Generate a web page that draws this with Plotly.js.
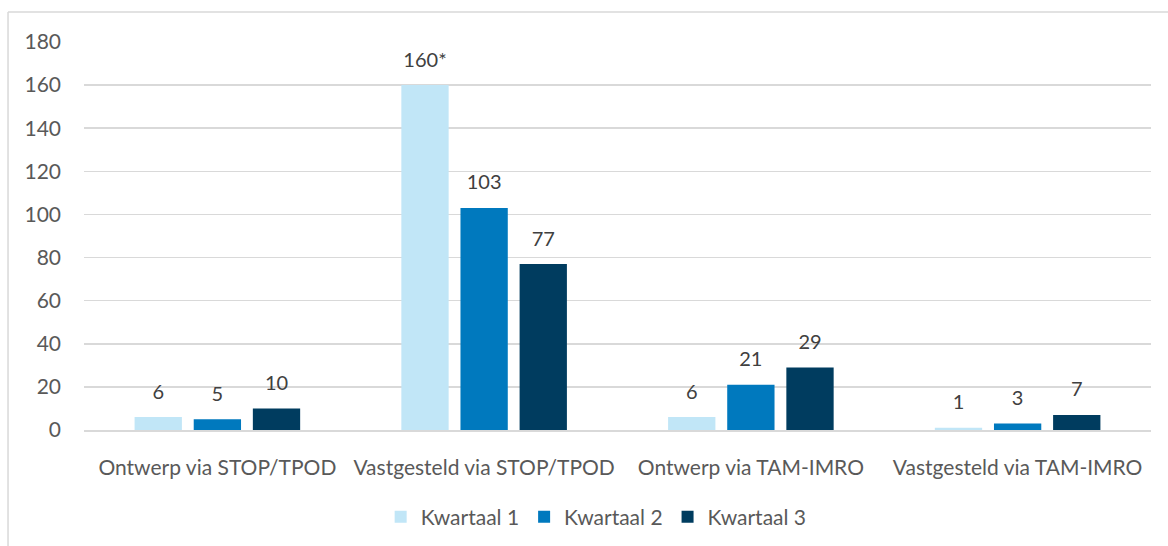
<!DOCTYPE html>
<html>
<head>
<meta charset="utf-8">
<script src="https://cdn.plot.ly/plotly-3.0.1.min.js"></script>
<style>html,body{margin:0;padding:0;background:#fff}#chart{width:1168px;height:546px}</style>
</head>
<body>
<div id="chart"></div>
<script>
var categories = ["Ontwerp via STOP/TPOD", "Vastgesteld via STOP/TPOD", "Ontwerp via TAM-IMRO", "Vastgesteld via TAM-IMRO"];
var seriesNames = ["Kwartaal 1", "Kwartaal 2", "Kwartaal 3"];
var kwartaal1 = [6, 160, 6, 1];
var kwartaal2 = [5, 103, 21, 3];
var kwartaal3 = [10, 77, 29, 7];
var labels1 = ["6", "160*", "6", "1"];
var labels2 = ["5", "103", "21", "3"];
var labels3 = ["10", "77", "29", "7"];
var yTicks = [0, 20, 40, 60, 80, 100, 120, 140, 160, 180];

var colors = ["#c1e6f7", "#0079be", "#003c5f"];
var font = "Lato, 'Open Sans', sans-serif";

function bar(name, y, c, g) {
  return {
    type: "bar", name: name, x: categories, y: y, offsetgroup: g,
    marker: {color: c}, hoverinfo: "skip"
  };
}
function lab(name, y, txt, g) {
  return {
    type: "scatter", mode: "markers+text", name: name, x: categories, y: y, text: txt,
    offsetgroup: g, textposition: "top center", showlegend: false, cliponaxis: false,
    marker: {size: 20, opacity: 0, color: "#fff"},
    textfont: {family: font, size: 20, color: "#404040"}, hoverinfo: "skip"
  };
}
var data = [
  bar(seriesNames[0], kwartaal1, colors[0], "1"),
  bar(seriesNames[1], kwartaal2, colors[1], "2"),
  bar(seriesNames[2], kwartaal3, colors[2], "3"),
  lab(seriesNames[0], kwartaal1, labels1, "1"),
  lab(seriesNames[1], kwartaal2, labels2, "2"),
  lab(seriesNames[2], kwartaal3, labels3, "3")
];

var layout = {
  width: 1168, height: 546,
  margin: {l: 84, r: 17, t: 42, b: 116},
  paper_bgcolor: "#fff", plot_bgcolor: "#fff",
  barmode: "group", bargap: 0.335, bargroupgap: 0.2,
  scattermode: "group", scattergap: 0.335,
  font: {family: font, size: 21, color: "#595959"},
  showlegend: true,
  legend: {orientation: "h", x: 0.48, xanchor: "center", yref: "container", y: 0.053, yanchor: "middle",
           font: {family: font, size: 21, color: "#595959"}, itemwidth: 30, traceorder: "normal"},
  xaxis: {showgrid: false, showline: true, linecolor: "#d9d9d9", linewidth: 1.5, automargin: false,
          ticks: "", ticklabelstandoff: 18, tickfont: {family: font, size: 21, color: "#595959"}, fixedrange: true},
  yaxis: {range: [0, 180], tickvals: yTicks, showgrid: true, gridcolor: "#d9d9d9", gridwidth: 1.5, automargin: false,
          zeroline: false, showline: false, ticks: "", ticklabelstandoff: 22,
          tickfont: {family: font, size: 21, color: "#595959"}, fixedrange: true},
  shapes: [
    {type: "line", xref: "paper", yref: "paper", x0: -0.0712, x1: 1.02, y0: 1.0773, y1: 1.0773,
     line: {color: "#d9d9d9", width: 1.5}},
    {type: "line", xref: "paper", yref: "paper", x0: -0.0712, x1: -0.0712, y0: 1.0773, y1: -0.31,
     line: {color: "#d9d9d9", width: 1.5}}
  ]
};
Plotly.newPlot("chart", data, layout, {displayModeBar: false, staticPlot: true});
</script>
</body>
</html>
